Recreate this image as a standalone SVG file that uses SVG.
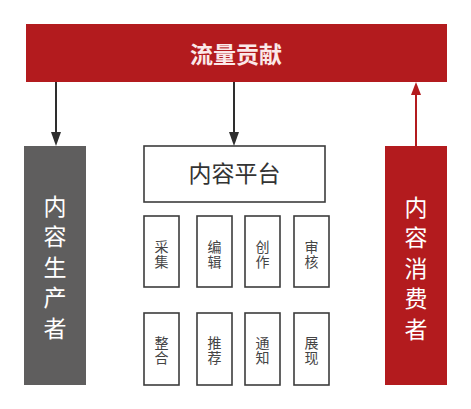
<svg xmlns="http://www.w3.org/2000/svg" width="471" height="409" viewBox="0 0 471 409">
<defs>
<style>
.cjk{font-family:"Noto Sans CJK SC","Noto Sans CJK JP",sans-serif;}
.title{font-size:23px;font-weight:bold;fill:#fbe9e9;text-anchor:middle;}
.side{font-size:23px;fill:#ffffff;text-anchor:middle;writing-mode:vertical-rl;letter-spacing:7.5px;}
.plat{font-size:23px;fill:#333333;text-anchor:middle;}
.small{font-size:14px;fill:#444444;text-anchor:middle;writing-mode:vertical-rl;letter-spacing:1.5px;}
.box{fill:#ffffff;stroke:#3c3c3c;stroke-width:1.6;}
.dark{stroke:#2e2e2e;stroke-width:2;fill:none;}
.red{stroke:#b31b1e;stroke-width:2;fill:none;}
</style>
</defs>
<rect width="471" height="409" fill="#ffffff"/>

<g id="traffic">
<rect x="26" y="24" width="421" height="58" fill="#b31b1e"/>
<text class="cjk title" x="236" y="63">流量贡献</text>
</g>

<g id="connectors">
<line class="dark" x1="56" y1="82" x2="56" y2="132"/>
<path d="M51,132 L61,132 L56,146 Z" fill="#2e2e2e"/>
<line class="dark" x1="234" y1="82" x2="234" y2="132"/>
<path d="M229,132 L239,132 L234,146 Z" fill="#2e2e2e"/>
<line class="red" x1="416" y1="146" x2="416" y2="94"/>
<path d="M416,82 L421,95 L411,95 Z" fill="#b31b1e"/>
</g>

<g id="producer">
<rect x="24" y="146" width="62" height="239" fill="#5f5e5e"/>
<text class="cjk side" x="55" y="271">内容生产者</text>
</g>

<g id="consumer">
<rect x="385" y="146" width="62" height="239" fill="#b31b1e"/>
<text class="cjk side" x="416" y="272">内容消费者</text>
</g>

<g id="platform">
<rect class="box" x="144" y="146" width="181" height="56"/>
<text class="cjk plat" x="234.5" y="182">内容平台</text>
</g>

<g id="caiji">
<rect class="box" x="144" y="216" width="35" height="71"/>
<text class="cjk small" x="161.5" y="255">采集</text>
</g>
<g id="bianji">
<rect class="box" x="197" y="216" width="35" height="71"/>
<text class="cjk small" x="214.5" y="255">编辑</text>
</g>
<g id="chuangzuo">
<rect class="box" x="245" y="216" width="35" height="71"/>
<text class="cjk small" x="262.5" y="255">创作</text>
</g>
<g id="shenhe">
<rect class="box" x="294" y="216" width="35" height="71"/>
<text class="cjk small" x="311.5" y="255">审核</text>
</g>

<g id="zhenghe">
<rect class="box" x="144" y="313" width="35" height="72"/>
<text class="cjk small" x="161.5" y="351">整合</text>
</g>
<g id="tuijian">
<rect class="box" x="197" y="313" width="35" height="72"/>
<text class="cjk small" x="214.5" y="351">推荐</text>
</g>
<g id="tongzhi">
<rect class="box" x="245" y="313" width="35" height="72"/>
<text class="cjk small" x="262.5" y="351">通知</text>
</g>
<g id="zhanxian">
<rect class="box" x="294" y="313" width="35" height="72"/>
<text class="cjk small" x="311.5" y="351">展现</text>
</g>
</svg>
